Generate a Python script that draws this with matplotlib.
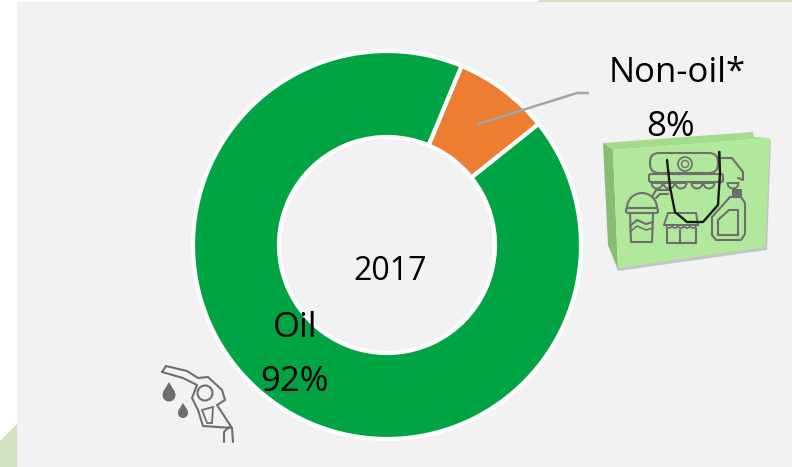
import matplotlib
matplotlib.use('Agg')
import matplotlib.pyplot as plt
from matplotlib.patches import Polygon, Circle, Rectangle, FancyBboxPatch, Wedge

plt.rcParams['font.family'] = ['Open Sans', 'DejaVu Sans']

# Data
labels = ['Non-oil*', 'Oil']
values = [8, 92]
colors = ['#ED7D31', '#00A443']
year = '2017'

H = 467
ICON = '#6E6E6E'

fig = plt.figure(figsize=(7.92, 4.67), dpi=100)
ax = fig.add_axes([0, 0, 1, 1])


def Y(y):
    return H - y


def poly(pts, **kw):
    ax.add_patch(Polygon([(x, Y(y)) for x, y in pts], closed=True, **kw))


def line(pts, color=ICON, lw=1.5, z=6):
    ax.plot([p[0] for p in pts], [Y(p[1]) for p in pts], color=color, lw=lw, zorder=z,
            solid_capstyle='round', solid_joinstyle='round')


def rbox(x, y, w, h, r, lw=1.5, z=6):
    ax.add_patch(FancyBboxPatch((x + r, Y(y + h) + r), w - 2 * r, h - 2 * r,
                                boxstyle='round,pad=%f' % r, fc='none', ec=ICON, lw=lw, zorder=z))


# Background panel
ax.add_patch(Rectangle((17, 0), 775, H - 2, fc='#F2F2F2', ec='none', zorder=0))
poly([(537, 2), (540, 0), (792, 0), (792, 2)], fc='#CFE3BE', ec='none', zorder=0)
poly([(0, 441), (17, 424), (17, 467), (0, 467)], fc='#CFE3BE', ec='none', zorder=0)

# Donut
ax.pie(values, colors=colors, startangle=67.4, counterclock=False,
       center=(387, Y(245)), radius=194,
       wedgeprops=dict(width=86, edgecolor='white', linewidth=3), frame=True)
ax.set_xlim(0, 792)
ax.set_ylim(0, H)
ax.set_aspect('auto')
ax.axis('off')

# Leader line
line([(478, 124), (577, 93), (588, 93)], color='#A5A5A5', lw=1.8, z=5)

# Bag
poly([(608, 245), (618, 271), (767, 250), (771, 140), (767, 140), (764, 246), (618, 266)],
     fc='#9A9A9A', ec='none', zorder=3, alpha=0.5)
poly([(603, 143), (753, 132), (754, 137), (770, 138), (613, 150)], fc='#A3DC8B', ec='none', zorder=4)
poly([(603, 143), (613, 150), (618, 268), (608, 245)], fc='#86BE72', ec='none', zorder=4)
poly([(613, 150), (770, 138), (765, 247), (618, 268)], fc='#B0E99B', ec='none', zorder=4)

# Truck
rbox(650, 153, 68, 20, 9)
line([(720, 152), (720, 183)])
line([(720, 158), (732, 158), (743, 172), (743, 180), (738, 178)])
rbox(649, 174, 74, 8, 2)
ax.add_patch(Circle((685, Y(164)), 7, fc='none', ec=ICON, lw=1.2, zorder=6))
ax.add_patch(Circle((685, Y(164)), 3.5, fc='none', ec=ICON, lw=1, zorder=6))
for cx in (657, 669, 681, 697, 709, 733):
    ax.add_patch(Wedge((cx, Y(183)), 5.5, 180, 360, fc='none', ec=ICON, lw=1.4, zorder=6))

# Bucket
ax.add_patch(Wedge((642, Y(208)), 15, 0, 180, fc='none', ec=ICON, lw=1.5, zorder=6))
rbox(626, 208, 32, 5, 2)
line([(630, 213), (631, 242), (652, 242), (653, 213)])
line([(630, 226), (637, 220), (646, 224), (653, 222)])
line([(630, 232), (637, 226), (646, 230), (653, 228)], lw=1.2)
line([(652, 197), (656, 190), (670, 190)])
line([(656, 198), (660, 194), (668, 194)])

# Shop
poly([(668, 213), (696, 213), (698, 225), (664, 225)], fc='none', ec=ICON, lw=1.4, zorder=6)
for cx in (669, 675, 681, 687, 693):
    ax.add_patch(Wedge((cx, Y(225)), 3, 180, 360, fc='none', ec=ICON, lw=1.2, zorder=6))
line([(667, 228), (667, 243), (696, 243), (696, 228)])
line([(680, 230), (680, 243)])

# Bottle
line([(730, 197), (741, 197), (745, 203), (745, 234), (741, 240), (716, 240), (712, 235),
      (712, 217), (730, 197)])
poly([(718, 220), (729, 210), (738, 210), (738, 235), (718, 235)], fc='none', ec=ICON, lw=1.5, zorder=6)
ax.add_patch(Rectangle((732, Y(196)), 10, 7, fc=ICON, ec='none', zorder=6))

# Bag handle
line([(667, 160), (670, 187), (675, 212), (687, 222), (703, 222), (718, 205), (720, 173), (719, 152)],
     color='#1A1A1A', lw=1.7, z=7)

# Fuel nozzle
line([(162, 372), (166, 366), (187, 371), (198, 378), (208, 377), (222, 390), (225, 400),
      (217, 405), (232, 428), (203, 426), (198, 410), (192, 398), (197, 385), (183, 378), (162, 372)], lw=1.5)
line([(224, 442), (224, 432), (229, 427)], lw=1.5)
line([(233, 442), (232, 428)], lw=1.5)
ax.add_patch(Circle((205, Y(393)), 7.5, fc='none', ec=ICON, lw=1.5, zorder=6))
poly([(202, 410), (213, 407), (212, 423), (207, 423)], fc='none', ec=ICON, lw=1.3, zorder=6)
ax.add_patch(Circle((169, Y(395)), 6.5, fc=ICON, ec='none', zorder=6))
poly([(169, 382), (163, 392), (175, 392)], fc=ICON, ec='none', zorder=6)
ax.add_patch(Circle((183, Y(413)), 5, fc=ICON, ec='none', zorder=6))
poly([(183, 403), (178, 411), (188, 411)], fc=ICON, ec='none', zorder=6)

# Texts
fs = 25
ax.text(677, Y(73), labels[0], ha='center', va='center', fontsize=fs, color='black', zorder=8)
ax.text(671, Y(127), '%d%%' % values[0], ha='center', va='center', fontsize=fs, color='black', zorder=8)
ax.text(295, Y(328), labels[1], ha='center', va='center', fontsize=fs, color='black', zorder=8)
ax.text(295, Y(382), '%d%%' % values[1], ha='center', va='center', fontsize=fs, color='black', zorder=8)
ax.text(390, Y(271), year, ha='center', va='center', fontsize=23, color='black', zorder=8)

fig.savefig('out.png', dpi=100)
